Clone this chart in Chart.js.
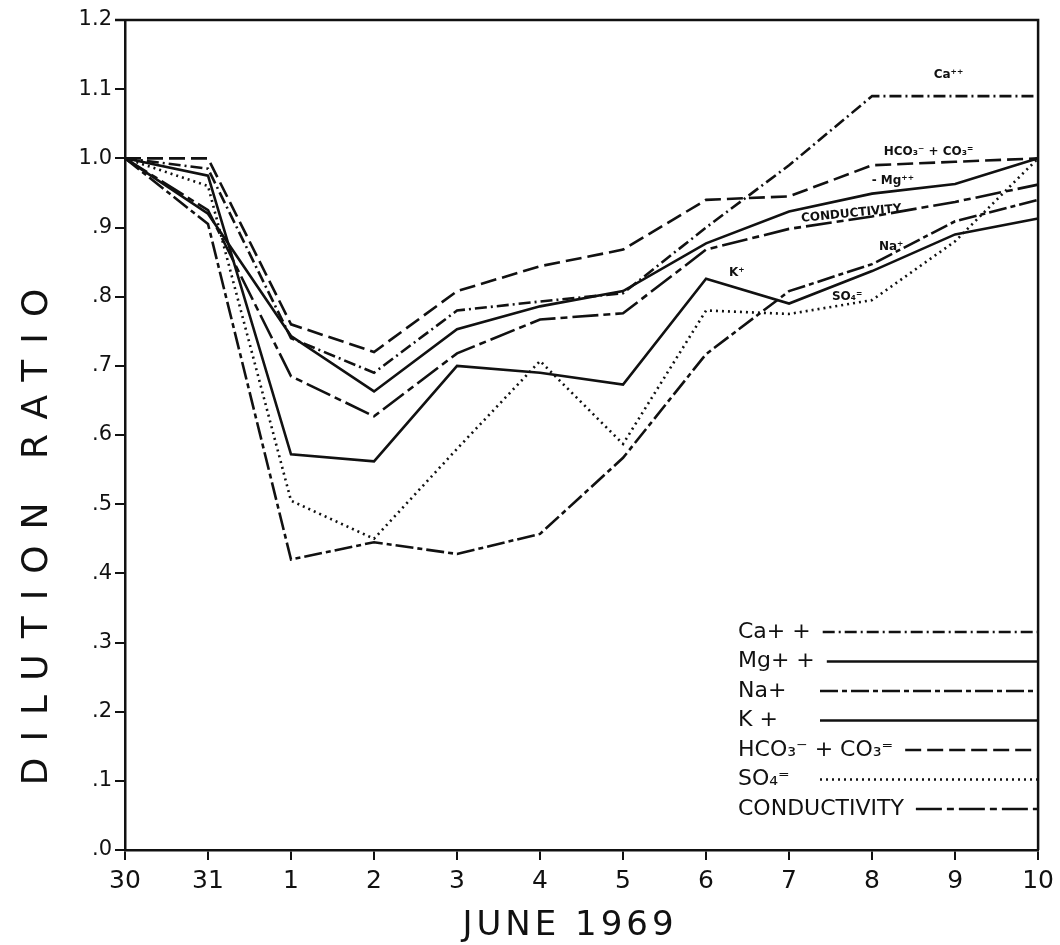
<!DOCTYPE html>
<html>
<head>
<meta charset="utf-8">
<script src="https://cdn.jsdelivr.net/npm/chart.js@4.4.1/dist/chart.umd.min.js"></script>
<style>
  body { margin: 0; background: #fff; }
  canvas { display: block; }
</style>
</head>
<body>
<canvas id="chart" width="1060" height="945"></canvas>
<script>
// dates of sampling (May 30 - June 10, 1969)
const dates = ['30', '31', '1', '2', '3', '4', '5', '6', '7', '8', '9', '10'];
const yTickLabels = ['.0', '.1', '.2', '.3', '.4', '.5', '.6', '.7', '.8', '.9', '1.0', '1.1', '1.2'];

// dilution ratio per constituent
const calcium      = [1.0, 0.985, 0.74, 0.69, 0.78, 0.793, 0.805, 0.90, 0.99, 1.09, 1.09, 1.09];
const magnesium    = [1.0, 0.92, 0.743, 0.663, 0.753, 0.786, 0.808, 0.877, 0.923, 0.949, 0.963, 1.0];
const sodium       = [1.0, 0.905, 0.42, 0.445, 0.428, 0.457, 0.567, 0.717, 0.808, 0.847, 0.909, 0.94];
const potassium    = [1.0, 0.975, 0.572, 0.562, 0.70, 0.69, 0.673, 0.826, 0.79, 0.837, 0.89, 0.913];
const bicarbonate  = [1.0, 1.0, 0.76, 0.72, 0.808, 0.844, 0.868, 0.94, 0.945, 0.99, 0.995, 1.0];
const sulfate      = [1.0, 0.96, 0.505, 0.45, 0.58, 0.707, 0.587, 0.78, 0.775, 0.795, 0.88, 1.0];
const conductivity = [1.0, 0.925, 0.685, 0.627, 0.718, 0.767, 0.776, 0.868, 0.898, 0.916, 0.937, 0.962];

const FONT = '"DejaVu Sans", sans-serif';

const series = (label, data, dash) => ({
  label: label,
  data: data,
  borderColor: '#111',
  borderWidth: 2.6,
  borderDash: dash,
  pointRadius: 0,
  tension: 0,
  fill: false,
});

// titles, frame, in-plot labels and the legend box drawn by hand
const extras = {
  id: 'extras',
  afterDraw(chart) {
    const { ctx, chartArea, scales } = chart;
    const x = scales.x, y = scales.y;
    ctx.save();

    // frame top + right
    ctx.strokeStyle = '#111';
    ctx.lineWidth = 2.5;
    ctx.beginPath();
    ctx.moveTo(chartArea.left - 10, chartArea.top);
    ctx.lineTo(chartArea.right, chartArea.top);
    ctx.lineTo(chartArea.right, chartArea.bottom);
    ctx.stroke();

    // y title
    ctx.fillStyle = '#111';
    ctx.font = '36px ' + FONT;
    ctx.letterSpacing = '16px';
    ctx.textAlign = 'center';
    ctx.textBaseline = 'middle';
    ctx.save();
    ctx.translate(38, 537);
    ctx.rotate(-Math.PI / 2);
    ctx.fillText('DILUTION RATIO', 8, 0);
    ctx.restore();

    // x title
    ctx.font = '34px ' + FONT;
    ctx.letterSpacing = '4px';
    ctx.fillText('JUNE 1969', 570, 926);
    ctx.letterSpacing = '0px';

    // small labels on the lines
    const notes = [
      ['Ca⁺⁺', 9.92, 1.12, 0],
      ['HCO₃⁻ + CO₃⁼', 9.68, 1.01, 0],
      ['- Mg⁺⁺', 9.25, 0.968, 0],
      ['CONDUCTIVITY', 8.75, 0.92, -0.1],
      ['Na⁺', 9.23, 0.872, 0],
      ['K⁺', 7.37, 0.835, 0],
      ['SO₄⁼', 8.7, 0.8, 0],
    ];
    ctx.font = 'bold 12px ' + FONT;
    notes.forEach(([t, i, v, r]) => {
      ctx.save();
      ctx.translate(x.getPixelForValue(i), y.getPixelForValue(v));
      ctx.rotate(r);
      ctx.fillText(t, 0, 0);
      ctx.restore();
    });

    // legend
    const names = ['Ca+ +', 'Mg+ +', 'Na+', 'K +', 'HCO₃⁻ + CO₃⁼', 'SO₄⁼', 'CONDUCTIVITY'];
    ctx.font = '22px ' + FONT;
    ctx.textAlign = 'left';
    ctx.lineWidth = 2.6;
    chart.data.datasets.forEach((ds, k) => {
      const rowY = 632 + k * 29.5;
      const tx = 738;
      ctx.fillText(names[k], tx, rowY);
      const start = Math.max(820, tx + ctx.measureText(names[k]).width + 12);
      ctx.setLineDash(ds.borderDash || []);
      ctx.beginPath();
      ctx.moveTo(start, rowY);
      ctx.lineTo(chartArea.right, rowY);
      ctx.stroke();
    });
    ctx.setLineDash([]);
    ctx.restore();
  },
};

const chart = new Chart(document.getElementById('chart'), {
  type: 'line',
  data: {
    labels: dates,
    datasets: [
      series('Ca++', calcium, [12, 4, 2, 4]),
      series('Mg++', magnesium, []),
      series('Na+', sodium, [18, 4, 5, 4]),
      series('K+', potassium, []),
      series('HCO3- + CO3=', bicarbonate, [16, 6]),
      series('SO4=', sulfate, [2, 4]),
      series('CONDUCTIVITY', conductivity, [26, 5, 7, 5]),
    ],
  },
  options: {
    responsive: false,
    animation: false,
    layout: { padding: { top: 20, right: 20, left: 0, bottom: 0 } },
    plugins: {
      legend: { display: false },
      tooltip: { enabled: false },
    },
    scales: {
      x: {
        offset: false,
        afterFit: (s) => { s.height = 95; },
        border: { color: '#111', width: 2.5 },
        grid: { drawOnChartArea: false, drawTicks: true, tickLength: 10, color: '#111', lineWidth: 2 },
        ticks: { color: '#111', padding: 6, maxRotation: 0, font: { family: FONT, size: 25 } },
      },
      y: {
        min: 0,
        max: 1.2,
        afterFit: (s) => { s.width = 125; },
        afterBuildTicks: (s) => { s.ticks = yTickLabels.map((_, i) => ({ value: i / 10 })); },
        border: { color: '#111', width: 2.5 },
        grid: { drawOnChartArea: false, drawTicks: true, tickLength: 10, color: '#111', lineWidth: 2 },
        ticks: {
          color: '#111',
          padding: 3,
          font: { family: FONT, size: 21 },
          callback: (v, i) => yTickLabels[i],
        },
      },
    },
  },
  plugins: [extras],
});
</script>
</body>
</html>
